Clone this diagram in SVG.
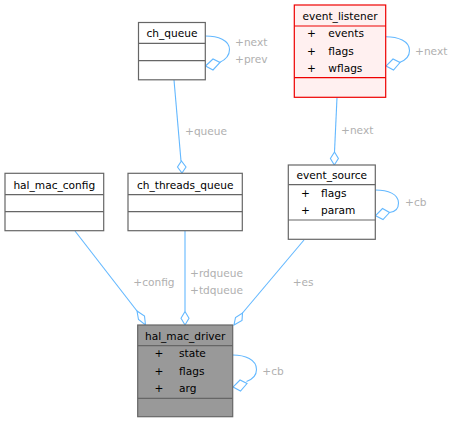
<svg xmlns="http://www.w3.org/2000/svg" width="456" height="423" viewBox="0 0 456 423">
<style>
text{font-family:"DejaVu Sans","Liberation Sans",sans-serif;font-size:10.6px;fill:#000}
.t{text-anchor:middle}
.lbl{fill:#b0b0b0}
.box{fill:#fff;stroke:#666;stroke-width:1.2}
.sel{fill:#999;stroke:#666;stroke-width:1.2}
.red{fill:#fff0f0;stroke:#e00;stroke-width:1.2}
.ln{fill:none;stroke:#666;stroke-width:1.2}
.lnr{fill:none;stroke:#e00;stroke-width:1.2}
.e{fill:none;stroke:#63b8ff;stroke-width:1.1}
.d{fill:#fff;stroke:#63b8ff;stroke-width:1.1}
</style>
<rect width="456" height="423" fill="#fff"/>
<g id="edges">
  <path class="e" d="M174,80 L181,161"/>
  <polygon class="d" points="182,173 186,167 181.4,161 177.5,167"/>
  <path class="e" d="M337,97.5 L334.5,152"/>
  <polygon class="d" points="334.3,165 338.4,158.5 334.5,152 330.4,158.5"/>
  <path class="e" d="M75,231 L137,311"/>
  <polygon class="d" points="145.5,325 144.5,316 137,311 138.5,319.5"/>
  <path class="e" d="M185,231 L185,311.5"/>
  <polygon class="d" points="185,325 189,318.3 185,311.5 181,318.3"/>
  <path class="e" d="M304,240 L242.5,313"/>
  <polygon class="d" points="234,325 242,320.5 242.5,313 235.5,317.5"/>
  <path class="e" d="M205.3,36 C218,36 229.5,40 229.5,49.5 C229.5,56 225,60 219.5,62.5"/>
  <polygon class="d" points="205.5,66 213,70 220,62.5 213,59"/>
  <path class="e" d="M385.7,36.7 C398,36.7 409.5,41 409.5,50.5 C409.5,57 405,60.5 399.5,62.5"/>
  <polygon class="d" points="386,66 393.5,70 400,62.5 393,59"/>
  <path class="e" d="M375.3,190 C388,190 398.5,194 398.5,203 C398.5,209 394.5,212 389.5,212.5"/>
  <polygon class="d" points="375.6,215.7 383,219.5 389.5,212.5 382.5,208.5"/>
  <path class="e" d="M232.7,355 C245,355 256.5,359.5 256.5,369.5 C256.5,376 252,379.5 246.5,381.5"/>
  <polygon class="d" points="233,387 240.5,391 247,383.5 240,380"/>
  <text class="lbl" x="185" y="134.5">+queue</text>
  <text class="lbl" x="235" y="45.5">+next</text>
  <text class="lbl" x="235" y="63.3">+prev</text>
  <text class="lbl" x="415" y="55">+next</text>
  <text class="lbl" x="341" y="134">+next</text>
  <text class="lbl" x="405" y="206.3">+cb</text>
  <text class="lbl" x="133.3" y="286.3">+config</text>
  <text class="lbl" x="190" y="276.7">+rdqueue</text>
  <text class="lbl" x="190" y="294">+tdqueue</text>
  <text class="lbl" x="292.7" y="286.3">+es</text>
  <text class="lbl" x="262.3" y="374.7">+cb</text>
</g>
<g id="ch_queue">
  <rect class="box" x="138.5" y="22.5" width="66.8" height="57.3"/>
  <path class="ln" d="M138.5,43.3H205.3M138.5,60.7H205.3"/>
  <text class="t" x="172" y="37.3">ch_queue</text>
</g>
<g id="event_listener">
  <rect class="red" x="294.3" y="5" width="91.4" height="92.3"/>
  <path class="lnr" d="M294.3,26H385.7M294.3,77.7H385.7"/>
  <text class="t" x="340" y="19.7">event_listener</text>
  <text x="307" y="37.3">+</text><text x="328.3" y="37.3">events</text>
  <text x="307" y="55">+</text><text x="328.3" y="55">flags</text>
  <text x="307" y="72.3">+</text><text x="328.3" y="72.3">wflags</text>
</g>
<g id="hal_mac_config">
  <rect class="box" x="5" y="173.3" width="98.7" height="57.4"/>
  <path class="ln" d="M5,194.7H103.7M5,211.7H103.7"/>
  <text class="t" x="54.3" y="189">hal_mac_config</text>
</g>
<g id="ch_threads_queue">
  <rect class="box" x="128" y="173.3" width="114.3" height="57.4"/>
  <path class="ln" d="M128,194.7H242.3M128,211.7H242.3"/>
  <text class="t" x="185.2" y="189">ch_threads_queue</text>
</g>
<g id="event_source">
  <rect class="box" x="288.3" y="165" width="87" height="74.3"/>
  <path class="ln" d="M288.3,184.7H375.3M288.3,220H375.3"/>
  <text class="t" x="331.8" y="179.3">event_source</text>
  <text x="301" y="196.7">+</text><text x="321" y="196.7">flags</text>
  <text x="301" y="214.3">+</text><text x="321" y="214.3">param</text>
</g>
<g id="hal_mac_driver">
  <rect class="sel" x="137.7" y="325" width="95" height="91.7"/>
  <path class="ln" d="M137.7,345.7H232.7M137.7,398.3H232.7"/>
  <text class="t" x="185.2" y="340">hal_mac_driver</text>
  <text x="154.5" y="357.3">+</text><text x="179" y="357.3">state</text>
  <text x="154.5" y="374.7">+</text><text x="179" y="374.7">flags</text>
  <text x="154.5" y="392">+</text><text x="179" y="392">arg</text>
</g>
</svg>
